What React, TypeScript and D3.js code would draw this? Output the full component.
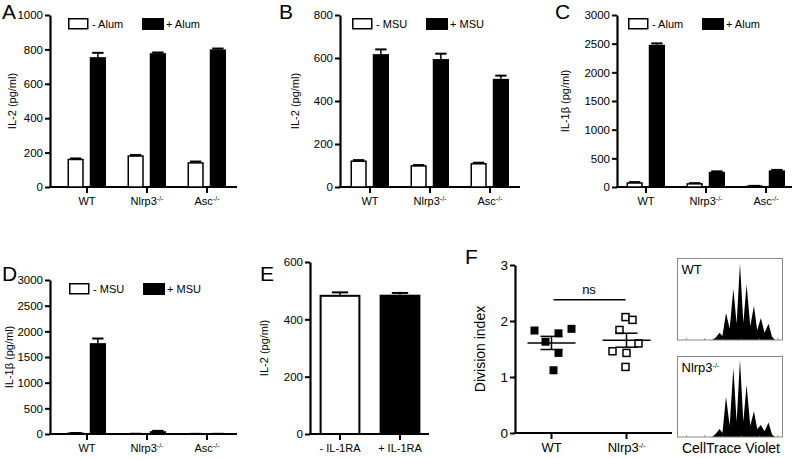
import React, { useEffect, useRef } from 'react'
import * as d3 from 'd3'

const genotypes = ['WT', 'Nlrp3', 'Asc']

// A: IL-2 with alum
const aMinus = [160, 180, 140]
const aMinusErr = [6, 6, 8]
const aPlus = [755, 778, 800]
const aPlusErr = [25, 4, 5]

// B: IL-2 with MSU
const bMinus = [120, 98, 108]
const bMinusErr = [5, 4, 5]
const bPlus = [618, 595, 503]
const bPlusErr = [22, 25, 15]

// C: IL-1b with alum
const cMinus = [70, 55, 15]
const cMinusErr = [15, 12, 5]
const cPlus = [2480, 265, 290]
const cPlusErr = [25, 8, 8]

// D: IL-1b with MSU
const dMinus = [15, 3, 2]
const dMinusErr = [5, 2, 1]
const dPlus = [1770, 55, 3]
const dPlusErr = [90, 6, 1]

// E: IL-2 +/- IL-1RA
const eLabels = ['- IL-1RA', '+ IL-1RA']
const eValues = [482, 486]
const eErr = [12, 6]

// F: division index
const fGroups = ['WT', 'Nlrp3']
const fWT = [1.83, 1.63, 1.78, 1.86, 1.43, 1.12]
const fWTJitter = [-17, -6, 7, 20, 7, 2]
const fKO = [2.07, 2.02, 1.84, 1.6, 1.46, 1.43, 1.18]
const fKOJitter = [-1, 6, -7, 12, -14, 0, -1]

// CellTrace histograms (channel as % of the plot width, relative count)
const histChannel = [33, 36.5, 40, 42.8, 46.2, 49.7, 53.2, 56.3, 59.5, 62.7, 65.8, 69.3, 72.8, 75.9, 79.4, 82.9, 86.7, 90, 93]
const histWT = [0, 0.03, 0.09, 0.05, 0.33, 0.14, 0.63, 0.2, 0.94, 0.21, 0.68, 0.17, 0.42, 0.12, 0.27, 0.09, 0.2, 0.04, 0]
const histKO = [0, 0.04, 0.1, 0.05, 0.5, 0.14, 0.86, 0.19, 0.96, 0.19, 0.65, 0.14, 0.32, 0.1, 0.15, 0.07, 0.18, 0.03, 0]

const FONT = '"Liberation Sans", Arial, Helvetica, sans-serif'

function genotypeLabel(g: any, name: string) {
  if (name === 'WT') {
    g.text('WT')
    return
  }
  g.append('tspan').text(name)
  g.append('tspan').attr('dy', -4).attr('font-size', 7).text('-/-')
}

function drawYAxis(svg: any, y: any, x: number, ticks: number[], fontSize = 11.5) {
  const g = svg.append('g').attr('transform', `translate(${x},0)`)
    .call(d3.axisLeft(y).tickValues(ticks).tickFormat(d3.format('d')).tickSize(5).tickSizeOuter(0).tickPadding(2))
  g.selectAll('path').attr('stroke-width', 2.2)
  g.selectAll('line').attr('stroke-width', 2)
  g.selectAll('text').attr('font-family', FONT).attr('font-size', fontSize).attr('fill', '#000')
  return g
}

function barPanel(svg: any, cfg: any) {
  const y = d3.scaleLinear().domain([0, cfg.yMax]).range([cfg.yBottom, cfg.yTop])
  const x = d3.scaleBand().domain(genotypes).range([cfg.bandStart, cfg.bandEnd])
  const sub = d3.scaleBand().domain(['minus', 'plus']).range([-19.5, 19]).paddingInner(0.27)

  drawYAxis(svg, y, cfg.axisX, d3.range(0, cfg.yMax + 1, cfg.tickStep))

  // x axis
  svg.append('line').attr('x1', cfg.axisX - 1).attr('x2', cfg.axisEnd)
    .attr('y1', cfg.yBottom).attr('y2', cfg.yBottom).attr('stroke', '#000').attr('stroke-width', 2.2)
  genotypes.forEach(gname => {
    const cx = (x(gname) || 0) + x.bandwidth() / 2
    svg.append('line').attr('x1', cx).attr('x2', cx).attr('y1', cfg.yBottom).attr('y2', cfg.yBottom + 6)
      .attr('stroke', '#000').attr('stroke-width', 2)
    const t = svg.append('text').attr('x', cx).attr('y', cfg.yBottom + 18).attr('text-anchor', 'middle')
      .attr('font-family', FONT).attr('font-size', 11)
    genotypeLabel(t, gname)
  })

  const series = [
    { key: 'minus', vals: cfg.minus, errs: cfg.minusErr, fill: '#fff' },
    { key: 'plus', vals: cfg.plus, errs: cfg.plusErr, fill: '#000' },
  ]
  series.forEach(s => {
    genotypes.forEach((gname, i) => {
      const cx = (x(gname) || 0) + x.bandwidth() / 2
      const bx = cx + (sub(s.key) || 0)
      const bw = sub.bandwidth()
      const v = s.vals[i]
      const top = y(v + s.errs[i])
      // error bar
      svg.append('line').attr('x1', bx + bw / 2).attr('x2', bx + bw / 2).attr('y1', y(v)).attr('y2', top)
        .attr('stroke', '#000').attr('stroke-width', 1.5)
      svg.append('line').attr('x1', bx + bw * 0.15).attr('x2', bx + bw * 0.85).attr('y1', top).attr('y2', top)
        .attr('stroke', '#000').attr('stroke-width', 2)
      if (s.fill === '#fff') {
        svg.append('rect').attr('x', bx + 0.75).attr('y', y(v)).attr('width', bw - 1.5)
          .attr('height', Math.max(0, cfg.yBottom - y(v))).attr('fill', '#fff').attr('stroke', '#000').attr('stroke-width', 1.5)
      } else {
        svg.append('rect').attr('x', bx).attr('y', y(v)).attr('width', bw)
          .attr('height', Math.max(0, cfg.yBottom - y(v))).attr('fill', '#000')
      }
    })
  })

  // legend
  const ly = cfg.yTop + 3
  svg.append('rect').attr('x', cfg.legendX + 0.75).attr('y', ly + 0.75).attr('width', 19).attr('height', 10)
    .attr('fill', '#fff').attr('stroke', '#000').attr('stroke-width', 1.5)
  svg.append('text').attr('x', cfg.legendX + 24).attr('y', ly + 10).attr('font-family', FONT).attr('font-size', 11)
    .text(cfg.legend[0])
  svg.append('rect').attr('x', cfg.legendX + 74).attr('y', ly).attr('width', 22).attr('height', 12).attr('fill', '#000')
  svg.append('text').attr('x', cfg.legendX + 98).attr('y', ly + 10).attr('font-family', FONT).attr('font-size', 11)
    .text(cfg.legend[1])

  // y label
  svg.append('text').attr('transform', `translate(${cfg.yLabelX},${(cfg.yTop + cfg.yBottom) / 2}) rotate(-90)`)
    .attr('text-anchor', 'middle').attr('font-family', FONT).attr('font-size', 11).text(cfg.yLabel)

  svg.append('text').attr('x', cfg.letterX).attr('y', cfg.letterY).attr('font-family', FONT)
    .attr('font-size', 21).text(cfg.letter)
}

function histPanel(svg: any, x0: number, y0: number, w: number, h: number, vals: number[], label: string) {
  const x = d3.scaleLinear().domain([0, 100]).range([x0, x0 + w])
  const y = d3.scaleLinear().domain([0, 1]).range([y0 + h, y0])
  const area = d3.area<number>().x((d, i) => x(histChannel[i])).y0(y0 + h).y1(d => y(d))
  svg.append('path').datum(vals).attr('d', area).attr('fill', '#000')
  const lx = d3.scaleLog().domain([1, 100000]).range([x0 + w * 0.08, x0 + w * 0.95])
  const tg = svg.append('g').attr('transform', `translate(0,${y0 + h})`)
    .call(d3.axisBottom(lx).ticks(5).tickSize(-2).tickFormat(() => '').tickSizeOuter(0))
  tg.select('path').remove()
  tg.selectAll('line').attr('stroke', '#555').attr('stroke-width', 0.6)
  svg.append('rect').attr('x', x0).attr('y', y0).attr('width', w).attr('height', h)
    .attr('fill', 'none').attr('stroke', '#888').attr('stroke-width', 1)
  const t = svg.append('text').attr('x', x0 + 4).attr('y', y0 + 15).attr('font-family', FONT).attr('font-size', 13)
  genotypeLabel(t, label)
}

export default function App() {
  const ref = useRef<SVGSVGElement | null>(null)

  useEffect(() => {
    const svg = d3.select(ref.current)
    svg.selectAll('*').remove()

    barPanel(svg, {
      axisX: 50, axisEnd: 237, bandStart: 57, bandEnd: 237, yTop: 15, yBottom: 187, yMax: 1000, tickStep: 200,
      minus: aMinus, minusErr: aMinusErr, plus: aPlus, plusErr: aPlusErr, legend: ['- Alum', '+ Alum'],
      legendX: 68, yLabel: 'IL-2 (pg/ml)', yLabelX: 16, letter: 'A', letterX: 2, letterY: 19,
    })
    barPanel(svg, {
      axisX: 340, axisEnd: 520, bandStart: 340, bandEnd: 520, yTop: 15, yBottom: 187, yMax: 800, tickStep: 200,
      minus: bMinus, minusErr: bMinusErr, plus: bPlus, plusErr: bPlusErr, legend: ['- MSU', '+ MSU'],
      legendX: 352, yLabel: 'IL-2 (pg/ml)', yLabelX: 299, letter: 'B', letterX: 279, letterY: 19,
    })
    barPanel(svg, {
      axisX: 617, axisEnd: 792, bandStart: 616, bandEnd: 796, yTop: 15, yBottom: 187, yMax: 3000, tickStep: 500,
      minus: cMinus, minusErr: cMinusErr, plus: cPlus, plusErr: cPlusErr, legend: ['- Alum', '+ Alum'],
      legendX: 628, yLabel: 'IL-1β (pg/ml)', yLabelX: 569, letter: 'C', letterX: 555, letterY: 19,
    })
    barPanel(svg, {
      axisX: 50, axisEnd: 237, bandStart: 57, bandEnd: 237, yTop: 280, yBottom: 434, yMax: 3000, tickStep: 500,
      minus: dMinus, minusErr: dMinusErr, plus: dPlus, plusErr: dPlusErr, legend: ['- MSU', '+ MSU'],
      legendX: 69, yLabel: 'IL-1β (pg/ml)', yLabelX: 13, letter: 'D', letterX: 2, letterY: 281,
    })

    // E
    {
      const y = d3.scaleLinear().domain([0, 600]).range([434, 262])
      const x = d3.scaleBand().domain(eLabels).range([310, 430]).paddingInner(0.32).paddingOuter(0.16)
      drawYAxis(svg, y, 310, [0, 200, 400, 600])
      svg.append('line').attr('x1', 309).attr('x2', 429).attr('y1', 434).attr('y2', 434)
        .attr('stroke', '#000').attr('stroke-width', 2.2)
      eLabels.forEach((lab, i) => {
        const bx = x(lab) || 0
        const bw = x.bandwidth()
        const cx = bx + bw / 2
        const v = eValues[i]
        const top = y(v + eErr[i])
        svg.append('line').attr('x1', cx).attr('x2', cx).attr('y1', y(v)).attr('y2', top).attr('stroke', '#000').attr('stroke-width', 1.5)
        svg.append('line').attr('x1', bx + bw * 0.3).attr('x2', bx + bw * 0.7).attr('y1', top).attr('y2', top).attr('stroke', '#000').attr('stroke-width', 2)
        if (i === 0) {
          svg.append('rect').attr('x', bx + 1).attr('y', y(v)).attr('width', bw - 2).attr('height', 434 - y(v))
            .attr('fill', '#fff').attr('stroke', '#000').attr('stroke-width', 2)
        } else {
          svg.append('rect').attr('x', bx).attr('y', y(v)).attr('width', bw).attr('height', 434 - y(v)).attr('fill', '#000')
        }
        svg.append('line').attr('x1', cx).attr('x2', cx).attr('y1', 434).attr('y2', 440).attr('stroke', '#000').attr('stroke-width', 2)
        svg.append('text').attr('x', cx).attr('y', 452).attr('text-anchor', 'middle').attr('font-family', FONT)
          .attr('font-size', 11).text(lab)
      })
      svg.append('text').attr('transform', `translate(268,348) rotate(-90)`).attr('text-anchor', 'middle')
        .attr('font-family', FONT).attr('font-size', 11).text('IL-2 (pg/ml)')
      svg.append('text').attr('x', 260).attr('y', 281).attr('font-family', FONT).attr('font-size', 21).text('E')
    }

    // F
    {
      const y = d3.scaleLinear().domain([0, 3]).range([433, 265])
      const x = d3.scaleBand().domain(fGroups).range([514, 664])
      drawYAxis(svg, y, 515, [0, 1, 2, 3], 13.5)
      svg.append('line').attr('x1', 514).attr('x2', 672).attr('y1', 433).attr('y2', 433)
        .attr('stroke', '#000').attr('stroke-width', 2.2)
      const sets = [
        { g: 'WT', vals: fWT, jit: fWTJitter, filled: true },
        { g: 'Nlrp3', vals: fKO, jit: fKOJitter, filled: false },
      ]
      sets.forEach(s => {
        const cx = (x(s.g) || 0) + x.bandwidth() / 2
        const mean = d3.mean(s.vals) || 0
        const sem = (d3.deviation(s.vals) || 0) / Math.sqrt(s.vals.length)
        svg.append('line').attr('x1', cx).attr('x2', cx).attr('y1', 433).attr('y2', 439).attr('stroke', '#000').attr('stroke-width', 2)
        const t = svg.append('text').attr('x', cx).attr('y', 452).attr('text-anchor', 'middle')
          .attr('font-family', FONT).attr('font-size', 13)
        genotypeLabel(t, s.g)
        s.vals.forEach((v, i) => {
          const px = cx + s.jit[i]
          if (s.filled) {
            svg.append('rect').attr('x', px - 4).attr('y', y(v) - 4).attr('width', 8).attr('height', 8).attr('fill', '#000')
          } else {
            svg.append('rect').attr('x', px - 3.5).attr('y', y(v) - 3.5).attr('width', 7).attr('height', 7)
              .attr('fill', '#fff').attr('stroke', '#000').attr('stroke-width', 1.5)
          }
        })
        svg.append('line').attr('x1', cx - 24).attr('x2', cx + 24).attr('y1', y(mean)).attr('y2', y(mean)).attr('stroke', '#000').attr('stroke-width', 1.5)
        svg.append('line').attr('x1', cx).attr('x2', cx).attr('y1', y(mean - sem)).attr('y2', y(mean + sem)).attr('stroke', '#000').attr('stroke-width', 1.5)
        ;[mean - sem, mean + sem].forEach(v => {
          svg.append('line').attr('x1', cx - 11).attr('x2', cx + 11).attr('y1', y(v)).attr('y2', y(v)).attr('stroke', '#000').attr('stroke-width', 1.5)
        })
      })
      const c1 = (x('WT') || 0) + x.bandwidth() / 2
      const c2 = (x('Nlrp3') || 0) + x.bandwidth() / 2
      svg.append('line').attr('x1', c1 + 2).attr('x2', c2 - 1).attr('y1', y(2.38)).attr('y2', y(2.38)).attr('stroke', '#000').attr('stroke-width', 1.5)
      svg.append('text').attr('x', (c1 + c2) / 2).attr('y', y(2.38) - 6).attr('text-anchor', 'middle')
        .attr('font-family', FONT).attr('font-size', 13).text('ns')
      svg.append('text').attr('transform', `translate(485,349) rotate(-90)`).attr('text-anchor', 'middle')
        .attr('font-family', FONT).attr('font-size', 14).text('Division index')
      svg.append('text').attr('x', 465).attr('y', 264).attr('font-family', FONT).attr('font-size', 21).text('F')

      histPanel(svg, 677.5, 258.5, 105, 81.5, histWT, 'WT')
      histPanel(svg, 677.5, 356.5, 105, 80.5, histKO, 'Nlrp3')
      svg.append('text').attr('x', 731).attr('y', 453).attr('text-anchor', 'middle').attr('font-family', FONT)
        .attr('font-size', 14).text('CellTrace Violet')
    }
  }, [])

  return (
    <div style={{ position: 'absolute', left: 0, top: 0, width: 797, height: 459, background: '#fff' }}>
      <svg ref={ref} width={797} height={459} />
    </div>
  )
}
